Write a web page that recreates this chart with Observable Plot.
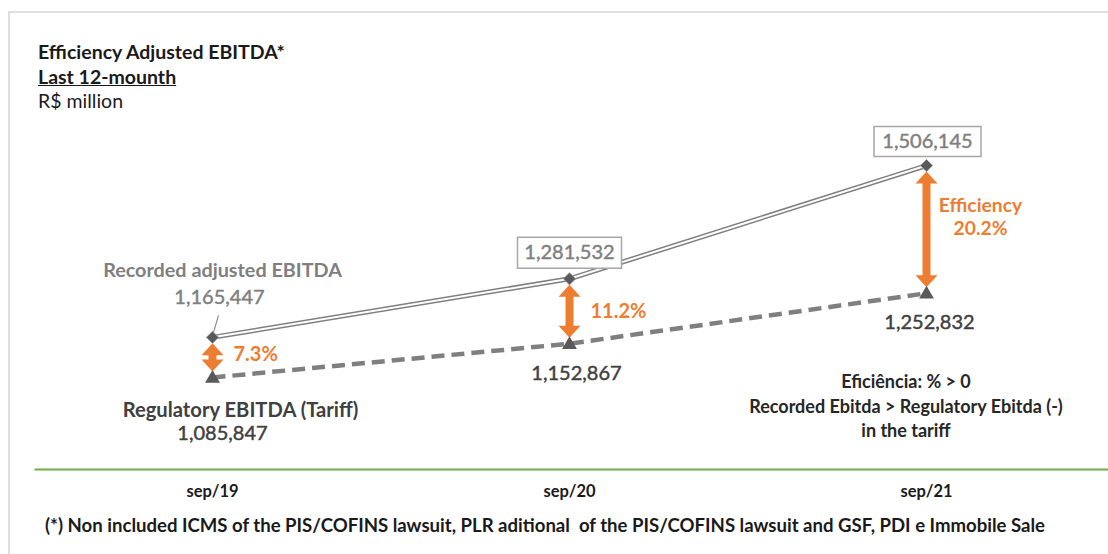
<!DOCTYPE html>
<html>
<head>
<meta charset="utf-8">
<script src="https://cdn.jsdelivr.net/npm/d3@7"></script>
<script src="https://cdn.jsdelivr.net/npm/@observablehq/plot@0.6"></script>
<style>
  html, body { margin: 0; padding: 0; background: #fff; }
  #wrap { position: relative; width: 1108px; height: 554px; overflow: hidden; font-family: Lato, "Open Sans", sans-serif; }
  #border { position: absolute; left: 8px; top: 11px; width: 1200px; height: 700px; border-left: 2px solid #dedede; border-top: 2px solid #dedede; }
  #chart { position: absolute; left: 0; top: 0; }
  .t { position: absolute; white-space: nowrap; line-height: 1; }
</style>
</head>
<body>
<div id="wrap">
  <div id="border"></div>
  <div id="chart"></div>
  <div class="t" style="left:38px;top:42px;font-size:19.5px;font-weight:700;color:#1a1a1a">Efficiency Adjusted EBITDA*</div>
  <div class="t" style="left:38px;top:67px;font-size:19.5px;font-weight:700;color:#1a1a1a;text-decoration:underline">Last 12-mounth</div>
  <div class="t" style="left:38px;top:91px;font-size:19.5px;color:#1a1a1a">R$ million</div>
  <div class="t" id="note" style="left:0;width:0;top:369px;font-size:18px;font-weight:700;color:#262626;line-height:24.5px">
    <div style="position:absolute;left:906px;transform:translateX(-50%);text-align:center">Eficiência: % &gt; 0<br>Recorded Ebitda &gt; Regulatory Ebitda (-)<br>in the tariff</div>
  </div>
  <div class="t" id="foot" style="left:45px;top:515px;font-size:19px;font-weight:700;color:#1a1a1a;transform-origin:0 0">(*) Non included ICMS of the PIS/COFINS lawsuit, PLR aditional&nbsp; of the PIS/COFINS lawsuit and GSF, PDI e Immobile Sale</div>
</div>
<script>
const periods = ["sep/19", "sep/20", "sep/21"];
const recorded = [1165447, 1281532, 1506145];
const regulatory = [1085847, 1152867, 1252832];

const rows = periods.map((p, i) => ({
  period: p,
  recorded: recorded[i],
  regulatory: regulatory[i],
  mid: (recorded[i] + regulatory[i]) / 2,
  eff: d3.format(".1%")(recorded[i] / regulatory[i] - 1)
}));

const orange = "#ED7D31";
const fmt = d3.format(",");
const headUp = { draw(ctx) { ctx.moveTo(0, 0); ctx.lineTo(11, 12); ctx.lineTo(-11, 12); ctx.closePath(); } };
const headDown = { draw(ctx) { ctx.moveTo(0, 0); ctx.lineTo(11, -12); ctx.lineTo(-11, -12); ctx.closePath(); } };
const box = (w, h) => ({ draw(ctx) { ctx.rect(-w / 2, -h / 2, w, h); } });
const leader = { draw(ctx) { ctx.moveTo(1, -5); ctx.lineTo(6, -22); } };

const first = rows.filter(d => d.period === "sep/19");
const s20 = rows.filter(d => d.period === "sep/20");
const s21 = rows.filter(d => d.period === "sep/21");

const numGray = { fontSize: 20, fill: "#7f7f7f", stroke: "#7f7f7f", strokeWidth: 0.45 };
const numDark = { fontSize: 20, fill: "#404040", stroke: "#404040", strokeWidth: 0.45 };

const chart = Plot.plot({
  width: 1108,
  height: 554,
  marginLeft: 35,
  marginRight: 0,
  marginTop: 20,
  marginBottom: 85,
  style: { fontFamily: "Lato, 'Open Sans', sans-serif", background: "transparent", overflow: "visible" },
  x: { type: "point", domain: periods, range: [212, 926], padding: 0, axis: null },
  y: { domain: [1000000, 1600000], range: [420.3, 117.7], axis: null },
  marks: [
    Plot.frame({ anchor: "bottom", stroke: "#70AD47", strokeWidth: 2 }),
    Plot.axisX({ tickSize: 0, tickPadding: 16, fontSize: 16.5, fontWeight: "bold", fill: "#1a1a1a", label: null }),
    // regulatory dashed line
    Plot.line(rows, { x: "period", y: "regulatory", stroke: "#7f7f7f", strokeWidth: 4.5, strokeDasharray: "13,7", strokeLinecap: "butt" }),
    // recorded double line
    Plot.line(rows, { x: "period", y: "recorded", stroke: "#7f7f7f", strokeWidth: 5 }),
    Plot.line(rows, { x: "period", y: "recorded", stroke: "#ffffff", strokeWidth: 2 }),
    // arrows
    Plot.arrow(rows, { x1: "period", x2: "period", y1: "recorded", y2: "regulatory", insetStart: 14, insetEnd: 14, headLength: 0, stroke: orange, strokeWidth: 8, strokeLinecap: "butt" }),
    Plot.dot(rows, { x: "period", y: "recorded", symbol: headUp, fill: orange, stroke: "none", dy: 6 }),
    Plot.dot(rows, { x: "period", y: "regulatory", symbol: headDown, fill: orange, stroke: "none", dy: -6 }),
    // markers
    Plot.dot(rows, { x: "period", y: "recorded", symbol: "diamond2", r: 5.5, fill: "#595959", stroke: "#9a9a9a", strokeWidth: 1 }),
    Plot.dot(rows, { x: "period", y: "regulatory", symbol: "triangle", r: 5.5, fill: "#595959", stroke: "none", dy: 1 }),
    // recorded labels
    Plot.dot(first, { x: "period", y: "recorded", symbol: leader, fill: "none", stroke: "#8c8c8c", strokeWidth: 1.2 }),
    Plot.text(first, { x: "period", y: "recorded", text: () => "Recorded adjusted EBITDA", dx: 10, dy: -67, fontSize: 19.8, fontWeight: "bold", fill: "#7f7f7f" }),
    Plot.text(first, { x: "period", y: "recorded", text: d => fmt(d.recorded), dx: 7, dy: -40, ...numGray }),
    Plot.dot(s20, { x: "period", y: "recorded", symbol: box(104, 31), fill: "white", stroke: "#a6a6a6", strokeWidth: 1.5, dy: -26 }),
    Plot.text(s20, { x: "period", y: "recorded", text: d => fmt(d.recorded), dy: -26, ...numGray }),
    Plot.dot(s21, { x: "period", y: "recorded", symbol: box(107, 30), fill: "white", stroke: "#a6a6a6", strokeWidth: 1.5, dy: -24, dx: 1 }),
    Plot.text(s21, { x: "period", y: "recorded", text: d => fmt(d.recorded), dy: -24, dx: 1, ...numGray }),
    // regulatory labels
    Plot.text(first, { x: "period", y: "regulatory", text: () => "Regulatory EBITDA (Tariff)", dx: 28, dy: 33, fontSize: 20.2, fontWeight: "bold", fill: "#404040" }),
    Plot.text(first, { x: "period", y: "regulatory", text: d => fmt(d.regulatory), dx: 10, dy: 56, ...numDark }),
    Plot.text(s20, { x: "period", y: "regulatory", text: d => fmt(d.regulatory), dx: 7, dy: 30, ...numDark }),
    Plot.text(s21, { x: "period", y: "regulatory", text: d => fmt(d.regulatory), dx: 3, dy: 29, ...numDark }),
    // efficiency labels
    Plot.text(first, { x: "period", y: "mid", text: "eff", dx: 21, dy: -3, textAnchor: "start", fontSize: 20, fontWeight: "bold", fill: orange }),
    Plot.text(s20, { x: "period", y: "mid", text: "eff", dx: 21, dy: 0, textAnchor: "start", fontSize: 20, fontWeight: "bold", fill: orange }),
    Plot.text(s21, { x: "period", y: "mid", text: d => "Efficiency\n" + d.eff, dx: 54, dy: -13, lineHeight: 1.2, fontSize: 19.3, fontWeight: "bold", fill: orange })
  ]
});
document.getElementById("chart").appendChild(chart);

const foot = document.getElementById("foot");
const w = foot.getBoundingClientRect().width;
if (w > 0) foot.style.transform = `scaleX(${1000 / w})`;
</script>
</body>
</html>
